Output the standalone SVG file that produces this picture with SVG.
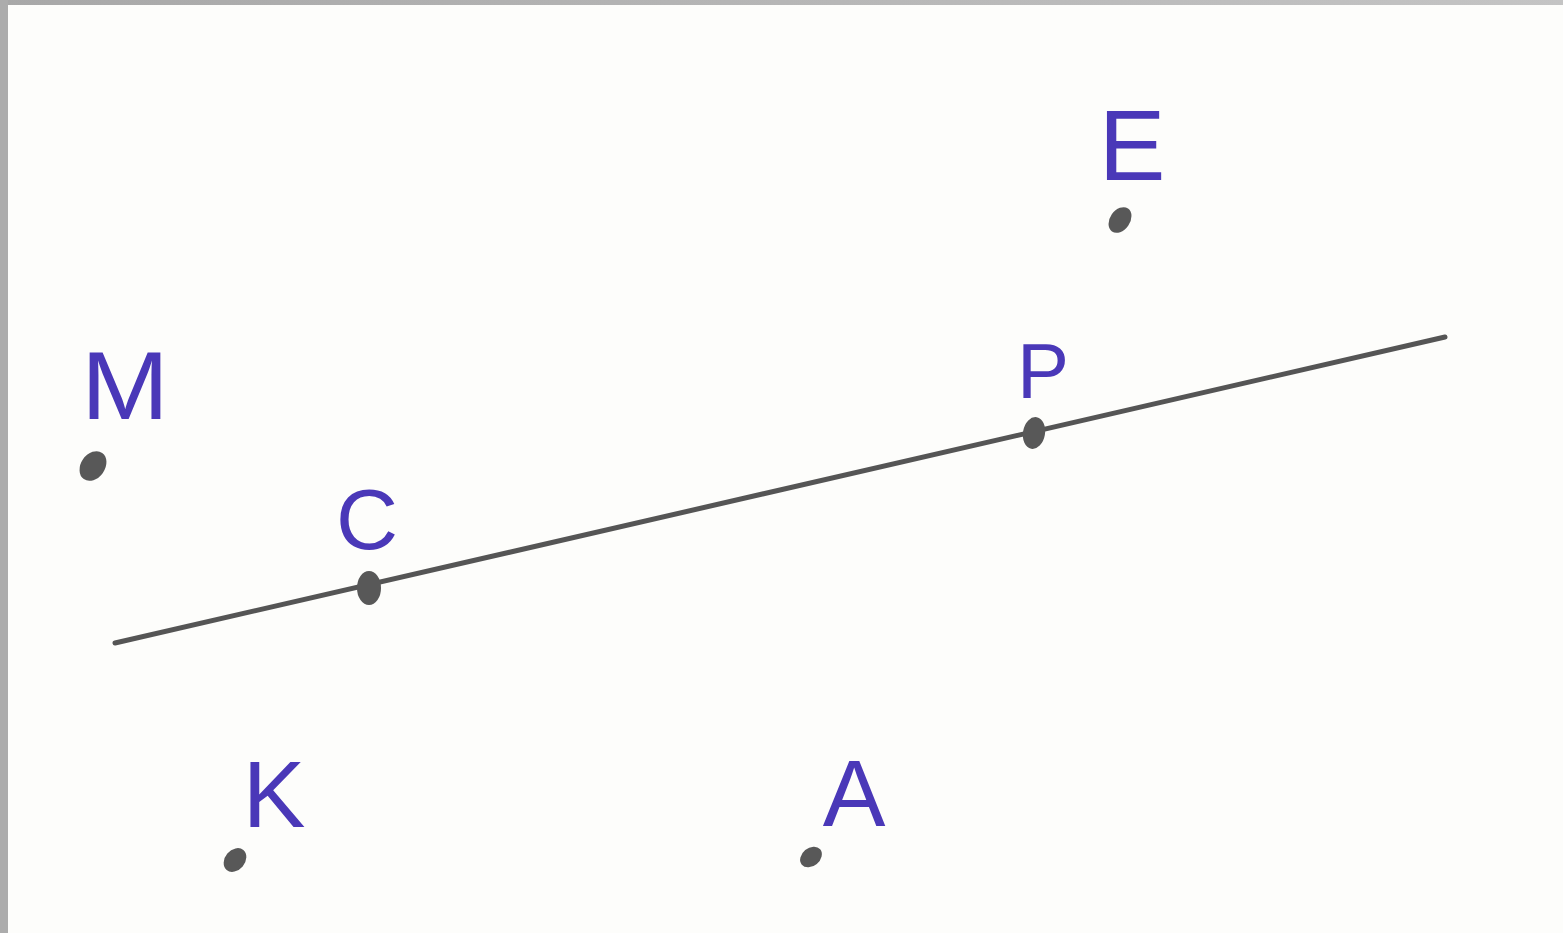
<svg xmlns="http://www.w3.org/2000/svg" width="1563" height="933" viewBox="0 0 1563 933">
<defs>
<style>
.lbl{font-family:"Liberation Sans",Arial,sans-serif;fill:#4a38b8;text-anchor:middle}
.dot{fill:#585858}
</style>
<linearGradient id="bt" x1="0" y1="0" x2="1" y2="0"><stop offset="0" stop-color="#a8a8a8"/><stop offset="1" stop-color="#c4c4c4"/></linearGradient>
</defs>
<rect x="0" y="0" width="1563" height="933" fill="#fdfdfb"/>
<rect x="0" y="0" width="1563" height="5" fill="url(#bt)"/>
<rect x="0" y="0" width="8" height="933" fill="#acacac"/>
<g id="connectors">
<line x1="115" y1="643" x2="1445" y2="337" stroke="#555" stroke-width="5" stroke-linecap="round"/>
</g>
<g id="M"><ellipse class="dot" cx="93" cy="466" rx="12" ry="16" transform="rotate(35 93 466)"/><text class="lbl" x="125" y="419" font-size="96" textLength="88" lengthAdjust="spacingAndGlyphs">M</text></g>
<g id="E"><ellipse class="dot" cx="1120" cy="220" rx="10" ry="14" transform="rotate(35 1120 220)"/><text class="lbl" x="1132" y="180" font-size="100">E</text></g>
<g id="P"><ellipse class="dot" cx="1034" cy="433" rx="11" ry="16" transform="rotate(10 1034 433)"/><text class="lbl" x="1043" y="398" font-size="78">P</text></g>
<g id="C"><ellipse class="dot" cx="369" cy="588" rx="12" ry="17"/><text class="lbl" x="367" y="549" font-size="86">C</text></g>
<g id="K"><ellipse class="dot" cx="235" cy="860" rx="10" ry="13" transform="rotate(40 235 860)"/><text class="lbl" x="274" y="827" font-size="94">K</text></g>
<g id="A"><ellipse class="dot" cx="811" cy="857" rx="9" ry="12" transform="rotate(50 811 857)"/><text class="lbl" x="854" y="826" font-size="94">A</text></g>
</svg>
